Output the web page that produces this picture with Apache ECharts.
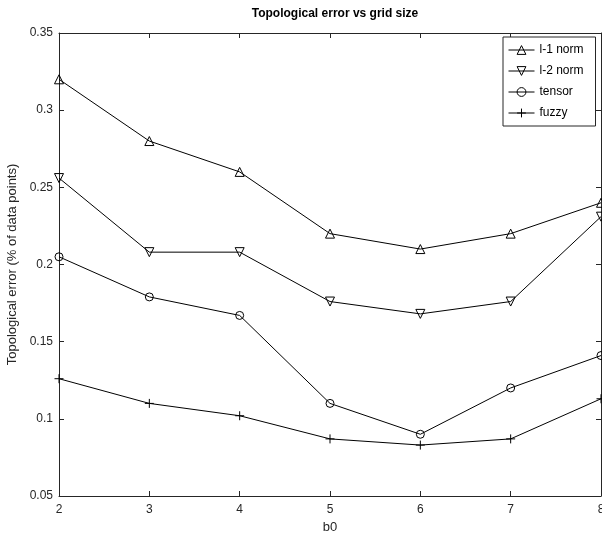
<!DOCTYPE html>
<html>
<head>
<meta charset="utf-8">
<script src="https://cdn.jsdelivr.net/npm/echarts@6/dist/echarts.min.js"></script>
<style>
  html, body { margin: 0; padding: 0; background: #fff; }
  #chart { width: 602px; height: 535px; }
</style>
</head>
<body>
<div id="chart"></div>
<script>
(function() {
    var myChart = echarts.init(document.getElementById('chart'));

    // grid sizes b0
    var gridSizes = [2, 3, 4, 5, 6, 7, 8];
    // topological error for each method
    var l1Norm = [0.32, 0.28, 0.26, 0.22, 0.21, 0.22, 0.24];
    var l2Norm = [0.256, 0.208, 0.208, 0.176, 0.168, 0.176, 0.231];
    var tensor = [0.205, 0.179, 0.167, 0.11, 0.09, 0.12, 0.141];
    var fuzzy = [0.126, 0.11, 0.102, 0.087, 0.083, 0.087, 0.113];

    var axisColor = '#262626';
    var font = 'Liberation Sans, Arial, Helvetica, sans-serif';

    function pairs(ys) {
        return gridSizes.map(function(x, i) { return [x, ys[i]]; });
    }

    function mkSeries(name, ys, symbol, size) {
        return {
            name: name,
            type: 'line',
            data: pairs(ys),
            symbol: symbol,
            symbolSize: size,
            showAllSymbol: true,
            lineStyle: { color: '#000', width: 1 },
            itemStyle: { color: 'transparent', borderColor: '#000', borderWidth: 1 },
            emphasis: { disabled: true },
            z: 3
        };
    }

    // top / right axes only close the box, like MATLAB's "box on"
    var boxAxis = {
        axisLine: { show: true, lineStyle: { color: axisColor, width: 1 } },
        axisTick: { show: true, inside: true, length: 5, lineStyle: { color: axisColor } },
        axisLabel: { show: false },
        splitLine: { show: false }
    };

    var option = {
        animation: false,
        backgroundColor: '#fff',
        title: {
            text: 'Topological error vs grid size',
            left: 330,
            top: 3,
            textAlign: 'center',
            textStyle: { fontFamily: font, fontSize: 12, fontWeight: 'bold', color: '#000' }
        },
        grid: { left: 59, right: 1, top: 33, bottom: 39, outerBoundsMode: 'none', containLabel: false },
        legend: {
            orient: 'vertical',
            left: 503,
            top: 37,
            padding: [6, 12, 6, 5],
            itemWidth: 26,
            itemHeight: 11,
            itemGap: 7,
            backgroundColor: '#fff',
            borderColor: axisColor,
            borderWidth: 1,
            borderRadius: 0,
            lineStyle: { width: 1 },
            itemStyle: { borderWidth: 1 },
            textStyle: { fontFamily: font, fontSize: 12, color: '#000', lineHeight: 14 },
            data: ['l-1 norm', 'l-2 norm', 'tensor', 'fuzzy']
        },
        xAxis: [{
            type: 'value',
            min: 2,
            max: 8,
            interval: 1,
            name: 'b0',
            nameLocation: 'middle',
            nameGap: 24,
            nameTextStyle: { fontFamily: font, fontSize: 13, color: axisColor },
            axisLine: { lineStyle: { color: axisColor, width: 1 } },
            axisTick: { inside: true, length: 5, lineStyle: { color: axisColor } },
            axisLabel: { fontFamily: font, fontSize: 12, color: axisColor, margin: 8 },
            splitLine: { show: false }
        }, Object.assign({ type: 'value', position: 'top', min: 2, max: 8, interval: 1 }, boxAxis)],
        yAxis: [{
            type: 'value',
            min: 0.05,
            max: 0.35,
            interval: 0.05,
            name: 'Topological error (% of data points)',
            nameLocation: 'middle',
            nameGap: 37,
            nameTextStyle: { fontFamily: font, fontSize: 13, color: axisColor },
            axisLine: { show: true, lineStyle: { color: axisColor, width: 1 } },
            axisTick: { show: true, inside: true, length: 5, lineStyle: { color: axisColor } },
            axisLabel: {
                fontFamily: font, fontSize: 12, color: axisColor, margin: 6,
                formatter: function(v) { return String(Math.round(v * 100) / 100); }
            },
            splitLine: { show: false }
        }, Object.assign({ type: 'value', position: 'right', min: 0.05, max: 0.35, interval: 0.05 }, boxAxis)],
        series: [
            mkSeries('l-1 norm', l1Norm, 'triangle', 9),
            mkSeries('l-2 norm', l2Norm, 'path://M0,0 L10,0 L5,10 Z', 9),
            mkSeries('tensor', tensor, 'circle', 8),
            mkSeries('fuzzy', fuzzy, 'path://M5,0 L5,10 M0,5 L10,5', 9)
        ]
    };
    myChart.setOption(option);
    window.addEventListener('resize', function() {
        myChart.resize();
    });
})();
</script>
</body>
</html>
